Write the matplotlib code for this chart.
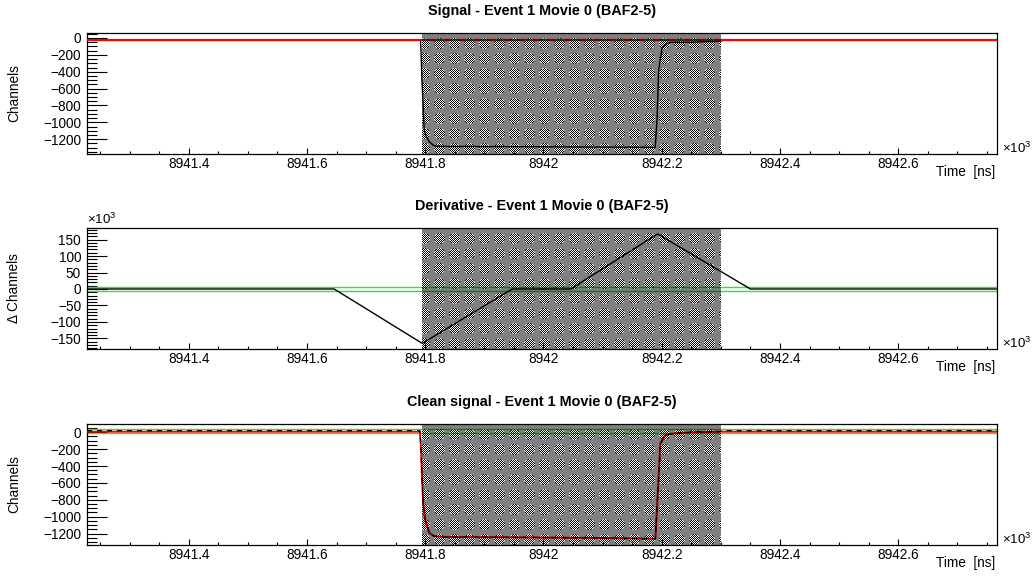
import matplotlib
matplotlib.use("Agg")
import matplotlib.pyplot as plt
from matplotlib.ticker import MultipleLocator, FuncFormatter
import numpy as np

plt.rcParams['font.family'] = ['Liberation Sans', 'DejaVu Sans']
plt.rcParams['mathtext.fontset'] = 'custom'
plt.rcParams['mathtext.rm'] = 'Liberation Sans'

# time axis, units of 10^3 ns
t_min, t_max = 8941.228, 8942.767
win_start, win_end = 8941.795, 8942.300

# raw signal (channels)
sig_t = [t_min, 8941.7920, 8941.7927, 8941.7944, 8941.7966, 8941.7983, 8941.8010,
         8941.8068, 8941.8152, 8941.8300, 8941.9500, 8942.0800, 8942.1890,
         8942.1920, 8942.1949, 8942.2006, 8942.2118, 8942.2400, 8942.2700,
         8942.2970, 8942.3050, t_max]
sig_v = [-25, -25, -120, -495, -820, -1090, -1160, -1228, -1280, -1285, -1288,
         -1292, -1295, -970, -377, -119, -52, -52, -45, -40, -27, -25]
sig_base = -24

# derivative (x10^3 channels)
der_t = [t_min, 8941.646, 8941.795, 8941.947, 8942.046, 8942.193, 8942.350, t_max]
der_v = [0, 0, -165, 0, 0, 167, 0, 0]
der_thr = [5, -5]

# baseline-subtracted signal and its fit
cln_t = [t_min, 8941.7910, 8941.7927, 8941.7944, 8941.7966, 8941.8000, 8941.8068,
         8941.8152, 8941.8300, 8941.9500, 8942.0800, 8942.1893, 8942.1920,
         8942.1949, 8942.1978, 8942.2062, 8942.2231, 8942.2512, 8942.2970,
         8942.3050, t_max]
cln_v = [19, 19, -170, -524, -838, -1035, -1192, -1232, -1240, -1245, -1252,
         -1262, -900, -500, -130, -32, -12, 0, 7, 19, 19]
fit_v = [7, 7, -170, -524, -838, -1035, -1192, -1232, -1240, -1245, -1252,
         -1262, -900, -500, -130, -32, -12, 0, 7, 7, 7]
cln_thr = [39, -12]

titles = ["Signal - Event 1 Movie 0 (BAF2-5)",
          "Derivative - Event 1 Movie 0 (BAF2-5)",
          "Clean signal - Event 1 Movie 0 (BAF2-5)"]

RED = '#ff0000'
GREEN = '#22ee22'
X1000 = r'$\times$10$^{3}$'

fig = plt.figure(figsize=(10.35, 5.76), dpi=100)
FW, FH = 1035, 576
ax_left, ax_w, ax_h = 87, 910, 121
tops = [33, 228, 424]
axes = [fig.add_axes([ax_left / FW, 1 - (tp + ax_h) / FH, ax_w / FW, ax_h / FH])
        for tp in tops]


def style(ax, ylim, ymaj, ymin):
    ax.set_xlim(t_min, t_max)
    ax.set_ylim(*ylim)
    ax.xaxis.set_major_locator(MultipleLocator(0.2))
    ax.xaxis.set_minor_locator(MultipleLocator(0.05))
    ax.yaxis.set_major_locator(MultipleLocator(ymaj))
    ax.yaxis.set_minor_locator(MultipleLocator(ymin))
    ax.xaxis.set_major_formatter(FuncFormatter(lambda v, p: f'{v:.6g}'))
    ax.tick_params(axis='x', which='major', direction='in', length=4.5,
                   width=0.8, labelsize=9.8, pad=2.2)
    ax.tick_params(axis='x', which='minor', direction='in', length=2.5, width=0.8)
    ax.tick_params(axis='y', which='major', direction='in', length=14.4,
                   width=0.8, labelsize=9.8, pad=4.3)
    ax.tick_params(axis='y', which='minor', direction='in', length=7.2, width=0.8)
    for s in ax.spines.values():
        s.set_linewidth(0.9)
    ax.text(1 + 5 / ax_w, 6 / ax_h, X1000, transform=ax.transAxes,
            ha='left', va='center', fontsize=9.5)
    ax.text(1 - 2 / ax_w, -18 / ax_h, 'Time  [ns]', transform=ax.transAxes,
            ha='right', va='center', fontsize=9.8)


def shade(ax):
    # 1-px checker fill over the window, laid on the figure pixel grid;
    # the checker shows in round patches, the rest is a flat half-tone
    y0, y1 = ax.get_ylim()
    (px0, py0), (px1, py1) = ax.transData.transform([(win_start, y0), (win_end, y1)])
    px0, px1, py0, py1 = (int(round(v)) for v in (px0, px1, py0, py1))
    rows, cols = py1 - py0, px1 - px0
    r, c = np.mgrid[0:rows, 0:cols]
    checker = ((r + c) % 2).astype(float)
    dr = (r + 2) % 15 - 7
    dc = (c + 5) % 15 - 7
    spot = dr ** 2 + dc ** 2 <= 26
    rgba = np.zeros((rows, cols, 4))
    rgba[..., 3] = np.where(spot, checker, 0.5)
    fig.figimage(rgba, xo=px0, yo=py0, origin='lower', zorder=3)


# signal
ax = axes[0]
style(ax, (-1375, 59), 200, 50)
ax.plot(sig_t, sig_v, color='black', lw=1.0, zorder=2)
ax.axhline(sig_base, color=RED, lw=1.6, zorder=3)
shade(ax)

# derivative
ax = axes[1]
style(ax, (-182, 185), 50, 10)
for thr in der_thr:
    ax.axhline(thr, color=GREEN, lw=1.0, zorder=2)
ax.plot(der_t, der_v, color='black', lw=1.0, zorder=3)
shade(ax)
ax.text(0, 1 + 1 / ax_h, X1000, transform=ax.transAxes,
        ha='left', va='bottom', fontsize=9.5)

# clean signal
ax = axes[2]
style(ax, (-1336, 98), 200, 50)
for thr in cln_thr:
    ax.axhline(thr, color=GREEN, lw=1.0, zorder=2)
ax.plot(cln_t, fit_v, color=RED, lw=1.4, zorder=3)
ax.plot(cln_t, cln_v, color='black', lw=0.9, ls=(0, (4, 4)), zorder=4)
shade(ax)

for ax, title, lab in zip(axes, titles, ['Channels', 'Δ Channels', 'Channels']):
    ax.text(0.5, 1 + 22 / ax_h, title, transform=ax.transAxes, ha='center',
            va='center', fontsize=10.4, fontweight='bold')
    ax.text(-73 / ax_w, 0.5, lab, transform=ax.transAxes, rotation=90,
            ha='center', va='center', fontsize=9.8)

fig.savefig('out.png', dpi=100)
